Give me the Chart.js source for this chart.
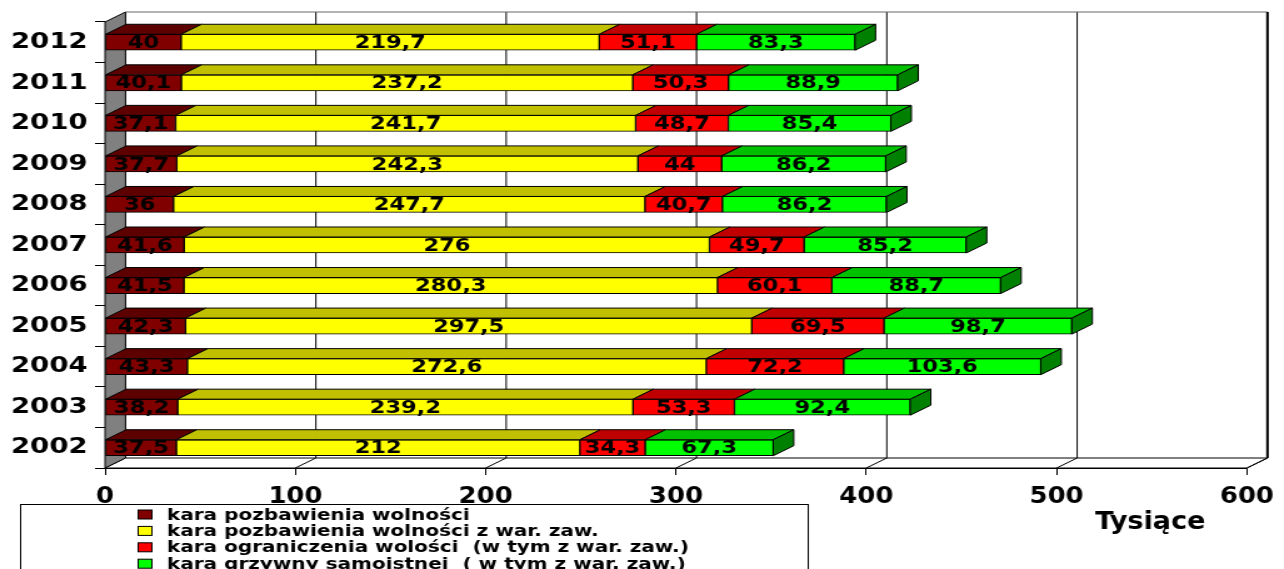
<!DOCTYPE html>
<html lang="pl">
<head>
<meta charset="utf-8">
<title>Skazania według rodzaju kary 2002–2012</title>
<script src="https://cdn.jsdelivr.net/npm/chart.js@4/dist/chart.umd.min.js"></script>
<style>
  html, body { margin: 0; padding: 0; background: #fff; overflow: hidden; }
  #wrap { width: 1027px; height: 569px; transform: scaleX(1.2502); transform-origin: 0 0; }
  canvas { display: block; }
</style>
</head>
<body>
<div id="wrap"><canvas id="chart" width="1027" height="569"></canvas></div>
<script>
// Years shown on the category axis (bottom to top)
const years = ['2002', '2003', '2004', '2005', '2006', '2007', '2008', '2009', '2010', '2011', '2012'];

// Sentences by type, in thousands
const pozbawienie = [37.5, 38.2, 43.3, 42.3, 41.5, 41.6, 36, 37.7, 37.1, 40.1, 40];
const pozbawienieWarZaw = [212, 239.2, 272.6, 297.5, 280.3, 276, 247.7, 242.3, 241.7, 237.2, 219.7];
const ograniczenie = [34.3, 53.3, 72.2, 69.5, 60.1, 49.7, 40.7, 44, 48.7, 50.3, 51.1];
const grzywna = [67.3, 92.4, 103.6, 98.7, 88.7, 85.2, 86.2, 86.2, 85.4, 88.9, 83.3];

const seriesNames = [
  'kara pozbawienia wolności',
  'kara pozbawienia wolności z war. zaw.',
  'kara ograniczenia wolości  (w tym z war. zaw.)',
  'kara grzywny samoistnej  ( w tym z war. zaw.)'
];

const xTicks = [0, 100, 200, 300, 400, 500, 600];
const unitLabel = 'Tysiące';

// Face colours: front, top, side
const palette = [
  { front: '#800000', top: '#5c0000', side: '#400000' },
  { front: '#ffff00', top: '#c0c000', side: '#808000' },
  { front: '#ff0000', top: '#c00000', side: '#800000' },
  { front: '#00ff00', top: '#00c000', side: '#008000' }
];

// Oblique depth of the 3D box
const DEPTH_X = 16.4;
const DEPTH_Y = -10;

const W = 1027, H = 569;
const PLOT_LEFT = 84, PLOT_RIGHT = 1002, PLOT_TOP = 22, PLOT_BOTTOM = 468;

function fmt(v) { return String(v).replace('.', ','); }

function poly(ctx, pts, fill, stroke, lw) {
  ctx.beginPath();
  ctx.moveTo(pts[0][0], pts[0][1]);
  for (let i = 1; i < pts.length; i++) ctx.lineTo(pts[i][0], pts[i][1]);
  ctx.closePath();
  if (fill) { ctx.fillStyle = fill; ctx.fill(); }
  if (stroke) { ctx.strokeStyle = stroke; ctx.lineWidth = lw || 1; ctx.stroke(); }
}

const threeD = {
  id: 'threeD',
  beforeDraw(chart) {
    const ctx = chart.ctx;
    ctx.save();
    ctx.fillStyle = '#fff';
    ctx.fillRect(0, 0, chart.width, chart.height);
    ctx.restore();
  },
  beforeDatasetsDraw(chart) {
    const ctx = chart.ctx;
    const a = chart.chartArea;
    const xs = chart.scales.x;
    const L = a.left, R = a.right, T = a.top, B = a.bottom;
    const dx = DEPTH_X, dy = DEPTH_Y;
    ctx.save();
    // back wall
    poly(ctx, [[L + dx, T + dy], [R + dx, T + dy], [R + dx, B + dy], [L + dx, B + dy]], '#fff', null);
    // floor
    poly(ctx, [[L, B], [R, B], [R + dx, B + dy], [L + dx, B + dy]], '#fff', '#000', 1);
    // left wall
    poly(ctx, [[L, T], [L + dx, T + dy], [L + dx, B + dy], [L, B]], '#808080', '#000', 1);
    // grid lines on the back wall and floor
    ctx.strokeStyle = '#000';
    ctx.lineWidth = 1;
    xTicks.forEach(v => {
      if (v === 0) return;
      const px = xs.getPixelForValue(v);
      ctx.beginPath();
      ctx.moveTo(px + dx, T + dy);
      ctx.lineTo(px + dx, B + dy);
      ctx.moveTo(px, B);
      ctx.lineTo(px + dx, B + dy);
      ctx.stroke();
    });
    // top edge of the back wall
    ctx.strokeStyle = '#666';
    ctx.beginPath();
    ctx.moveTo(L + dx, T + dy);
    ctx.lineTo(R + dx, T + dy);
    ctx.stroke();
    // right edge of the back wall
    ctx.strokeStyle = '#000';
    ctx.lineWidth = 2;
    ctx.beginPath();
    ctx.moveTo(R + dx, T + dy);
    ctx.lineTo(R + dx, B + dy);
    ctx.stroke();
    ctx.restore();
  },
  afterDatasetsDraw(chart) {
    const ctx = chart.ctx;
    const dx = DEPTH_X, dy = DEPTH_Y;
    const n = chart.data.datasets.length;
    ctx.save();
    ctx.lineJoin = 'miter';
    for (let d = 0; d < n; d++) {
      const meta = chart.getDatasetMeta(d);
      meta.data.forEach(bar => {
        const p = bar.getProps(['x', 'y', 'base', 'height'], true);
        const x0 = Math.min(p.base, p.x), x1 = Math.max(p.base, p.x);
        const yt = p.y - p.height / 2, yb = p.y + p.height / 2;
        poly(ctx, [[x0, yt], [x1, yt], [x1 + dx, yt + dy], [x0 + dx, yt + dy]], palette[d].top, '#000', 1);
        if (d === n - 1) {
          poly(ctx, [[x1, yt], [x1 + dx, yt + dy], [x1 + dx, yb + dy], [x1, yb]], palette[d].side, '#000', 1);
        }
      });
    }
    // value labels on the front faces
    ctx.fillStyle = '#000';
    ctx.font = 'bold 18px "DejaVu Sans"';
    ctx.textAlign = 'center';
    ctx.textBaseline = 'middle';
    for (let d = 0; d < n; d++) {
      const meta = chart.getDatasetMeta(d);
      const vals = chart.data.datasets[d].data;
      meta.data.forEach((bar, i) => {
        const p = bar.getProps(['x', 'y', 'base'], true);
        ctx.fillText(fmt(vals[i]), (p.base + p.x) / 2, p.y + 1);
      });
    }
    ctx.restore();
  },
  afterDraw(chart) {
    const ctx = chart.ctx;
    ctx.save();
    // unit caption under the value axis
    ctx.fillStyle = '#000';
    ctx.font = 'bold 24px "DejaVu Sans Condensed", "DejaVu Sans"';
    ctx.textAlign = 'center';
    ctx.textBaseline = 'alphabetic';
    ctx.fillText(unitLabel, 920, 529);
    // legend box
    ctx.fillStyle = '#fff';
    ctx.fillRect(16.5, 504.5, 630, 80);
    ctx.strokeStyle = '#000';
    ctx.lineWidth = 1;
    ctx.strokeRect(16.5, 504.5, 630, 80);
    ctx.font = 'bold 16px "DejaVu Sans"';
    ctx.textAlign = 'left';
    chart.data.datasets.forEach((ds, i) => {
      const yb = 519.5 + 16.4 * i;
      ctx.fillStyle = ds.backgroundColor;
      ctx.fillRect(110.5, yb - 9.5, 11, 9);
      ctx.strokeStyle = '#000';
      ctx.strokeRect(110.5, yb - 9.5, 11, 9);
      ctx.fillStyle = '#000';
      ctx.fillText(ds.label, 133.5, yb);
    });
    ctx.restore();
  }
};

const datasets = [pozbawienie, pozbawienieWarZaw, ograniczenie, grzywna].map((vals, i) => ({
  label: seriesNames[i],
  data: vals,
  backgroundColor: palette[i].front,
  borderColor: '#000',
  borderWidth: 1,
  borderSkipped: false,
  barThickness: 16
}));

new Chart(document.getElementById('chart'), {
  type: 'bar',
  data: { labels: years, datasets },
  options: {
    indexAxis: 'y',
    responsive: false,
    animation: false,
    devicePixelRatio: 1,
    layout: { padding: { left: 0, right: W - PLOT_RIGHT, top: PLOT_TOP, bottom: 0 } },
    plugins: { legend: { display: false }, tooltip: { enabled: false } },
    scales: {
      x: {
        type: 'linear',
        stacked: true,
        min: 0,
        max: 600,
        afterFit(s) { s.height = H - PLOT_BOTTOM; },
        afterBuildTicks(s) { s.ticks = xTicks.map(v => ({ value: v })); },
        grid: { drawOnChartArea: false, drawTicks: true, tickLength: 7, color: '#000' },
        border: { display: true, color: '#000', width: 1 },
        ticks: {
          color: '#000',
          padding: 8,
          maxRotation: 0,
          font: { family: '"DejaVu Sans Condensed", "DejaVu Sans"', weight: 'bold', size: 23 }
        }
      },
      y: {
        type: 'category',
        stacked: true,
        reverse: true,
        afterFit(s) { s.width = PLOT_LEFT; },
        grid: { drawOnChartArea: false, drawTicks: true, tickLength: 8, color: '#000', offset: true },
        border: { display: true, color: '#000', width: 1 },
        ticks: {
          color: '#000',
          padding: 6,
          font: { family: '"DejaVu Sans"', weight: 'bold', size: 22 }
        }
      }
    }
  },
  plugins: [threeD]
});
</script>
</body>
</html>
